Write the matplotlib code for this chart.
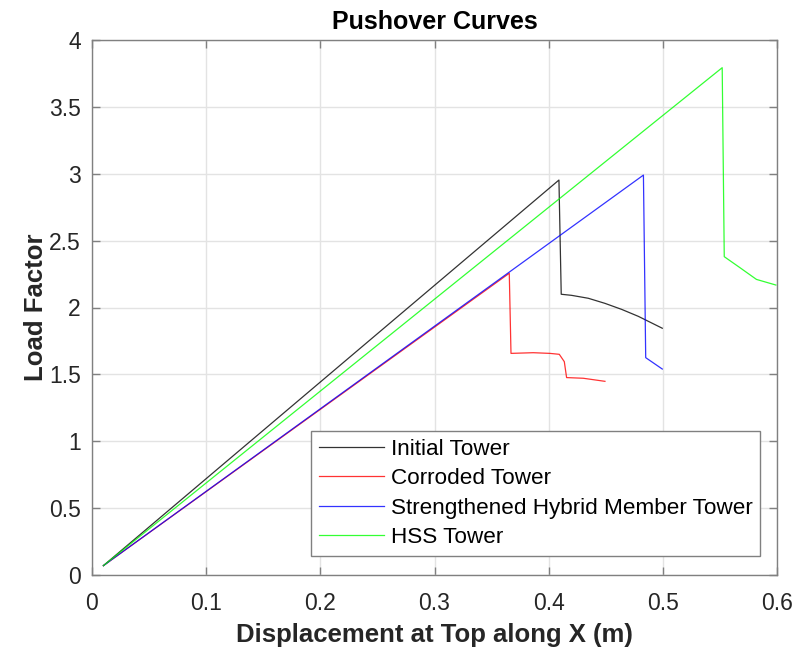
import matplotlib
matplotlib.use("Agg")
import matplotlib.pyplot as plt

plt.rcParams['font.family'] = ['Liberation Sans', 'DejaVu Sans']

# Data
initial_x = [0.01, 0.409, 0.411, 0.420, 0.4347, 0.4493, 0.4639, 0.4785, 0.4995]
initial_y = [0.07, 2.953, 2.099, 2.091, 2.069, 2.031, 1.986, 1.934, 1.845]

corroded_x = [0.01, 0.3655, 0.367, 0.3865, 0.401, 0.4093, 0.4137, 0.4157, 0.4303, 0.4493]
corroded_y = [0.07, 2.256, 1.657, 1.662, 1.657, 1.650, 1.595, 1.476, 1.471, 1.448]

hybrid_x = [0.01, 0.483, 0.485, 0.4995]
hybrid_y = [0.07, 2.99, 1.625, 1.540]

hss_x = [0.01, 0.552, 0.5538, 0.5675, 0.582, 0.599]
hss_y = [0.07, 3.793, 2.38, 2.298, 2.21, 2.168]

labels = ['Initial Tower', 'Corroded Tower', 'Strengthened Hybrid Member Tower', 'HSS Tower']
colors = ['#000000', '#ff0000', '#0000ff', '#00ff00']

xticks = [0, 0.1, 0.2, 0.3, 0.4, 0.5, 0.6]
xticklabels = ['0', '0.1', '0.2', '0.3', '0.4', '0.5', '0.6']
yticks = [0, 0.5, 1, 1.5, 2, 2.5, 3, 3.5, 4]
yticklabels = ['0', '0.5', '1', '1.5', '2', '2.5', '3', '3.5', '4']

fig = plt.figure(figsize=(7.95, 6.54), dpi=100)
ax = fig.add_axes([92/795, 1-575/654, 685/795, 535/654])

series = [(initial_x, initial_y), (corroded_x, corroded_y), (hybrid_x, hybrid_y), (hss_x, hss_y)]
for (x, y), lab, c in zip(series, labels, colors):
    ax.plot(x, y, color=c, lw=0.9, label=lab, alpha=0.8)

ax.set_xlim(0, 0.6)
ax.set_ylim(0, 4)
ax.set_xticks(xticks)
ax.set_xticklabels(xticklabels)
ax.set_yticks(yticks)
ax.set_yticklabels(yticklabels)

ax.grid(True, color='#e3e3e3', lw=1.0)
ax.set_axisbelow(True)
for s in ax.spines.values():
    s.set_color('#808080')
    s.set_linewidth(1.0)
ax.tick_params(direction='in', length=6, width=1.0, color='#808080',
               top=True, right=True, labelsize=16.5, labelcolor='#262626')
ax.tick_params(axis='x', pad=12)
ax.tick_params(axis='y', pad=8)

ax.set_title('Pushover Curves', fontsize=18, fontweight='bold', color='black', pad=8)
ax.set_xlabel('Displacement at Top along X (m)', fontsize=18.5, fontweight='bold',
              color='#262626', labelpad=6)
ax.set_ylabel('Load Factor', fontsize=18.5, fontweight='bold', color='#262626')
ax.yaxis.set_label_coords(-0.064, 0.5)

leg = ax.legend(loc='lower left', bbox_to_anchor=(0.3197, 0.0355), borderaxespad=0,
                fontsize=16.2, frameon=True, fancybox=False, framealpha=1,
                edgecolor='#808080', handlelength=2.9, handletextpad=0.3,
                labelspacing=0.38, borderpad=0.34)
leg.get_frame().set_linewidth(1.0)
for t in leg.get_texts():
    t.set_color('black')

fig.savefig('out.png', dpi=100, facecolor='white')
